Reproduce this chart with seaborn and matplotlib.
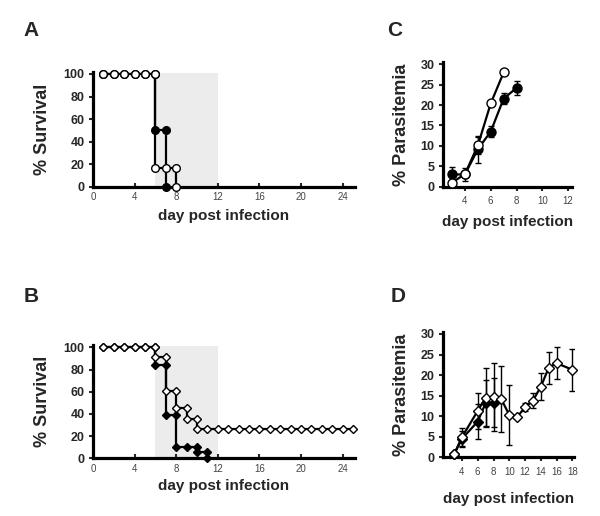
import numpy as np
import pandas as pd
import matplotlib
matplotlib.use("Agg")
import matplotlib.pyplot as plt
import seaborn as sns

sns.set_style("ticks")
plt.rcParams['font.family'] = ['Liberation Sans', 'DejaVu Sans']

# ---------------- data ----------------
# Panel A: survival (step curves, vertices incl. drop points)
a_black_day = [1, 2, 3, 4, 5, 6, 6, 7, 7]
a_black_surv = [100, 100, 100, 100, 100, 100, 50, 50, 0]
a_open_day = [1, 2, 3, 4, 5, 6, 6, 7, 8, 8]
a_open_surv = [100, 100, 100, 100, 100, 100, 17, 17, 17, 0]

# Panel B: survival
b_black_day = [1, 2, 3, 4, 5, 6, 6, 7, 7, 8, 8, 9, 10, 10, 11, 11]
b_black_surv = [100, 100, 100, 100, 100, 100, 84, 84, 39, 39, 10.5, 10.5, 10.5, 6, 6, 0]
b_open_day = [1, 2, 3, 4, 5, 6, 6, 7, 7, 8, 8, 9, 9, 10, 10,
              11, 12, 13, 14, 15, 16, 17, 18, 19, 20, 21, 22, 23, 24, 25]
b_open_surv = [100, 100, 100, 100, 100, 100, 91, 91, 61, 61, 45.5, 45.5, 35.5, 35.5, 26,
               26, 26, 26, 26, 26, 26, 26, 26, 26, 26, 26, 26, 26, 26, 26]

# Panel C: parasitemia
c_black_day = [3, 4, 5, 6, 7, 8]
c_black_mean = [3.0, 3.0, 9.2, 13.5, 21.6, 24.2]
c_black_err = [1.9, 1.7, 3.3, 1.4, 1.3, 1.8]
c_open_day = [3, 4, 5, 6, 7]
c_open_mean = [1.0, 3.1, 10.1, 20.4, 28.0]
c_open_err = [0.0, 0.0, 2.2, 0.0, 0.0]

# Panel D: parasitemia
d_black_day = [3, 4, 6, 7, 8]
d_black_mean = [0.7, 4.5, 8.7, 13.2, 13.3]
d_black_err = [0.0, 2.0, 4.2, 5.6, 6.0]
d_open_day = [3, 4, 6, 7, 8, 9, 10, 11, 12, 13, 14, 15, 16, 18]
d_open_mean = [0.7, 4.9, 11.3, 14.5, 14.7, 14.1, 10.3, 9.8, 12.2, 13.8, 17.2, 21.8, 22.9, 21.3]
d_open_err = [0.0, 2.2, 4.4, 7.2, 8.2, 8.0, 7.4, 0.0, 1.0, 1.8, 3.2, 3.9, 3.9, 5.1]

survival_yticks = [0, 20, 40, 60, 80, 100]
survival_xticks = [0, 4, 8, 12, 16, 20, 24]
para_yticks = [0, 5, 10, 15, 20, 25, 30]
c_xticks = [4, 6, 8, 10, 12]
d_xticks = [4, 6, 8, 10, 12, 14, 16, 18]

# ---------------- figure ----------------
W, H = 600, 516
fig = plt.figure(figsize=(W / 100, H / 100), dpi=100)


def px_axes(left, right, bottom_y, top_y):
    return fig.add_axes([left / W, 1 - bottom_y / H, (right - left) / W, (bottom_y - top_y) / H])


axA = px_axes(93, 355, 186.7, 186.7 - 102 * 1.127)
axB = px_axes(93, 355, 458.3, 458.3 - 102 * 1.11)
axC = px_axes(443, 572, 186.7, 186.7 - 30.5 * 4.08)
axD = px_axes(443, 574, 457.3, 457.3 - 30.5 * 4.11)

open_kw = dict(color='black', markerfacecolor='white', markeredgecolor='black')
black_kw = dict(color='black', markerfacecolor='black', markeredgecolor='black')


def style_axes(ax, xdir):
    for s in ['top', 'right']:
        ax.spines[s].set_visible(False)
    for s in ['left', 'bottom']:
        ax.spines[s].set_linewidth(2.3)
        ax.spines[s].set_color('black')
    ax.tick_params(axis='y', direction='out', length=3, width=1.5, labelsize=9, pad=3)
    ax.tick_params(axis='x', direction=xdir, length=3, width=1.5, labelsize=7,
                   labelcolor='#444444', pad=4)
    for lab in ax.get_yticklabels():
        lab.set_fontweight('bold')


def survival_panel(ax, bd, bs, od, os_, marker, ms, xlabelpad):
    ax.axvspan(6, 12, ymin=0, ymax=101 / 102, color='#ececec', zorder=0, lw=0)
    dfb = pd.DataFrame({'day': bd, 'surv': bs})
    dfo = pd.DataFrame({'day': od, 'surv': os_})
    sns.lineplot(data=dfb, x='day', y='surv', estimator=None, sort=False, ax=ax,
                 marker=marker, markersize=ms, linewidth=1.6, markeredgewidth=1.0,
                 clip_on=False, zorder=3, **black_kw)
    sns.lineplot(data=dfo, x='day', y='surv', estimator=None, sort=False, ax=ax,
                 marker=marker, markersize=ms, linewidth=1.6, markeredgewidth=1.0,
                 clip_on=False, zorder=4, **open_kw)
    ax.set_xlim(0, 25.2)
    ax.set_ylim(0, 102)
    ax.set_xticks(survival_xticks)
    ax.set_yticks(survival_yticks)
    style_axes(ax, 'in')
    ax.set_ylabel('% Survival', fontsize=13, fontweight='bold', labelpad=9)
    ax.set_xlabel('day post infection', fontsize=11, fontweight='bold', labelpad=xlabelpad)


survival_panel(axA, a_black_day, a_black_surv, a_open_day, a_open_surv, 'o', 5.5, 4.5)
survival_panel(axB, b_black_day, b_black_surv, b_open_day, b_open_surv, 'D', 4.0, 3.5)


def para_panel(ax, bd, bm, be, od, om, oe, marker, ms, xticks, xlim, xlabelpad):
    dfb = pd.DataFrame({'day': bd, 'para': bm})
    dfo = pd.DataFrame({'day': od, 'para': om})
    ax.errorbar(bd, bm, yerr=be, fmt='none', ecolor='black', elinewidth=1.0,
                capsize=2, capthick=1.0, zorder=2)
    sns.lineplot(data=dfb, x='day', y='para', estimator=None, sort=False, ax=ax,
                 marker=marker, markersize=ms, linewidth=1.6, markeredgewidth=1.0,
                 clip_on=False, zorder=3, **black_kw)
    ax.errorbar(od, om, yerr=oe, fmt='none', ecolor='black', elinewidth=1.0,
                capsize=2, capthick=1.0, zorder=2)
    sns.lineplot(data=dfo, x='day', y='para', estimator=None, sort=False, ax=ax,
                 marker=marker, markersize=ms, linewidth=1.6, markeredgewidth=1.0,
                 clip_on=False, zorder=4, **open_kw)
    ax.set_xlim(*xlim)
    ax.set_ylim(0, 30.5)
    ax.set_xticks(xticks)
    ax.set_yticks(para_yticks)
    style_axes(ax, 'out')
    ax.set_ylabel('% Parasitemia', fontsize=13, fontweight='bold', labelpad=8)
    ax.set_xlabel('day post infection', fontsize=11, fontweight='bold', labelpad=xlabelpad)


para_panel(axC, c_black_day, c_black_mean, c_black_err, c_open_day, c_open_mean, c_open_err,
           'o', 6.5, c_xticks, (2.3, 12.3), 6)
para_panel(axD, d_black_day, d_black_mean, d_black_err, d_open_day, d_open_mean, d_open_err,
           'D', 5.0, d_xticks, (1.6, 18.2), 10.5)

# panel letters
for letter, x, y in [('A', 31, 31), ('B', 31, 297), ('C', 395, 30), ('D', 398, 297)]:
    fig.text(x / W, 1 - y / H, letter, fontsize=15, fontweight='bold',
             ha='center', va='center')

fig.savefig('out.png', dpi=100)
